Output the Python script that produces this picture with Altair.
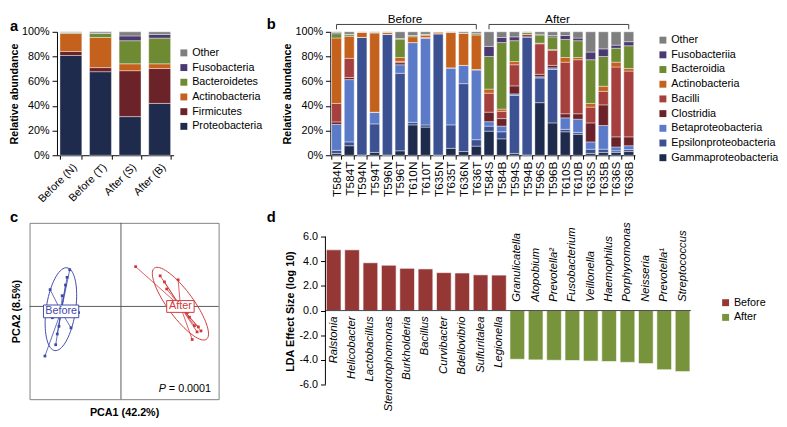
import math
import numpy as np
import pandas as pd
import altair as alt

FONT = "Liberation Sans"

# ---------------- panel a ----------------
a_groups = ["Before (N)", "Before (T)", "After (S)", "After (B)"]
a_legend_order = ["Other", "Fusobacteria", "Bacteroidetes", "Actinobacteria", "Firmicutes", "Proteobacteria"]
a_colors = ["#7F7F7F", "#4B3A72", "#6E8B33", "#C4611C", "#6B2228", "#1F2B4D"]
a_proteobacteria = [80.8, 67.7, 31.3, 42.0]
a_firmicutes = [3.3, 3.3, 37.2, 28.3]
a_actinobacteria = [14.6, 24.4, 5.6, 3.8]
a_bacteroidetes = [0.8, 3.3, 18.7, 20.8]
a_fusobacteria = [0.0, 0.3, 3.9, 3.0]
a_other = [0.5, 1.0, 3.3, 2.1]

# ---------------- panel b ----------------
b_samples = ["T584N", "T584T", "T594N", "T594T", "T596N", "T596T", "T610N", "T610T",
             "T635N", "T635T", "T636N", "T636T", "T584S", "T584B", "T594S", "T594B",
             "T596S", "T596B", "T610S", "T610B", "T635S", "T635B", "T636S", "T636B"]
b_legend_order = ["Other", "Fusobacteriia", "Bacteroidia", "Actinobacteria", "Bacilli",
                  "Clostridia", "Betaproteobacteria", "Epsilonproteobacteria", "Gammaproteobacteria"]
b_colors = ["#7F7F7F", "#4B3A72", "#6E8B33", "#C4611C", "#A5403F", "#6B2228", "#5B7BC9", "#3B5191", "#1F2B4D"]
b_gamma = [1.5, 7.7, 0.3, 2.3, 0.2, 3.6, 24.6, 22.8, 0.2, 5.6, 3.0, 7.4,
           19.5, 13.3, 1.5, 0.3, 42.6, 26.2, 19.0, 17.0, 1.5, 2.3, 2.3, 3.0]
b_epsilon = [2.5, 3.1, 95.2, 23.1, 97.8, 62.8, 2.1, 1.8, 98.3, 19.0, 55.0, 5.2,
             4.1, 5.7, 47.0, 95.6, 20.0, 43.3, 2.0, 1.5, 3.4, 2.6, 1.3, 1.6]
b_beta = [21.0, 50.5, 0.0, 9.5, 0.0, 6.9, 64.6, 70.0, 0.0, 46.2, 14.8, 56.4,
          3.6, 4.6, 1.2, 0.0, 1.0, 1.3, 9.3, 10.7, 5.9, 19.2, 3.1, 3.1]
b_clostridia = [2.0, 1.7, 0.0, 0.0, 0.0, 1.7, 0.0, 0.0, 0.0, 0.0, 0.0, 0.5,
                7.7, 6.1, 6.5, 0.0, 2.0, 2.0, 3.3, 4.4, 15.4, 16.7, 8.2, 7.2]
b_bacilli = [15.0, 15.5, 0.0, 0.0, 0.0, 1.0, 0.0, 0.8, 0.0, 0.0, 0.0, 0.0,
             15.4, 5.9, 17.1, 2.1, 24.7, 12.3, 41.8, 43.8, 12.8, 11.0, 56.6, 53.3]
b_actino = [53.0, 17.9, 4.3, 64.1, 1.5, 3.2, 4.7, 1.8, 1.5, 28.7, 26.2, 27.9,
            3.3, 1.8, 2.6, 0.0, 0.5, 0.5, 3.8, 1.8, 3.0, 4.1, 3.9, 2.1]
b_bacteroidia = [3.5, 1.3, 0.0, 0.5, 0.0, 14.8, 1.0, 0.8, 0.0, 0.0, 0.0, 1.1,
                 26.4, 53.9, 16.9, 1.5, 6.6, 10.3, 14.6, 13.6, 35.4, 24.1, 11.3, 18.4]
b_fuso = [1.0, 0.3, 0.0, 0.0, 0.0, 0.6, 0.0, 0.0, 0.0, 0.0, 0.0, 0.0,
          8.2, 4.1, 3.1, 0.0, 0.6, 1.1, 3.2, 2.1, 6.2, 6.2, 2.5, 3.3]
b_other = [0.5, 2.0, 0.2, 0.5, 0.5, 5.4, 3.0, 2.0, 0.0, 0.5, 1.0, 1.5,
           11.8, 4.6, 4.1, 0.5, 2.0, 3.0, 3.0, 5.1, 16.4, 13.8, 10.8, 8.0]
b_bracket_labels = ["Before", "After"]
b_bracket_start = ["T584N", "T584S"]
b_bracket_end = ["T636T", "T636B"]
b_bracket_mid = ["T596T", "T596B"]

# ---------------- panel c ----------------
c_before_x = [-0.723, -0.523, -0.776, -0.433, -0.51, -0.666, -0.70, -0.65, -0.566, -0.60, -0.55, -0.633]
c_before_y = [0.183, 0.40, -0.54, -0.067, -0.233, -0.417, -0.123, -0.30, 0.233, 0.117, 0.317, -0.217]
c_after_x = [0.15, 0.584, 0.467, 0.40, 0.444, 0.727, 0.817, 0.777, 0.75, 0.70, 0.79, 0.677]
c_after_y = [0.433, 0.29, 0.19, 0.333, 0.267, -0.36, -0.267, -0.277, -0.21, -0.117, -0.223, -0.067]
# ellipse: center x, center y, semi-major, semi-minor, angle (deg)
c_ellipse_before = [-0.613, -0.03, 0.455, 0.15, 82.2]
c_ellipse_after = [0.607, 0.03, 0.47, 0.135, -55.8]
c_colors = ["#3F4AA8", "#D0393B"]

# ---------------- panel d ----------------
d_genera_before = ["Ralstonia", "Helicobacter", "Lactobacillus", "Stenotrophomonas", "Burkholderia",
                   "Bacillus", "Curvibacter", "Bdellovibrio", "Sulfuritalea", "Legionella"]
d_lda_before = [4.93, 4.93, 3.88, 3.68, 3.43, 3.38, 3.08, 3.05, 2.90, 2.88]
d_genera_after = ["Granulicatella", "Atopobium", "Prevotella\u00b2", "Fusobacterium", "Veillonella",
                  "Haemophilus", "Porphyromonas", "Neisseria", "Prevotella\u00b9", "Streptococcus"]
d_lda_after = [-3.95, -4.0, -4.03, -4.05, -4.1, -4.13, -4.2, -4.3, -4.8, -4.95]
d_colors = ["#953735", "#77933C"]

H1 = 126
H2 = 180
A_OFF = 28


def letter(t, dx, offset):
    return alt.TitleParams(t, anchor="start", frame="group", dx=dx, offset=offset,
                           fontSize=15, fontWeight="bold", font=FONT, color="black")


NOVIEW = alt.ViewBackground(stroke=None)
pct_axis = dict(format="%", values=[0, 0.2, 0.4, 0.6, 0.8, 1.0], title="Relative abundance",
                tickSize=5, labelPadding=3, titlePadding=2, labelOverlap=False)

# ---------- build a ----------
a_series = {"Proteobacteria": a_proteobacteria, "Firmicutes": a_firmicutes,
            "Actinobacteria": a_actinobacteria, "Bacteroidetes": a_bacteroidetes,
            "Fusobacteria": a_fusobacteria, "Other": a_other}
rows = []
stack_a = list(reversed(a_legend_order))
for i, g in enumerate(a_groups):
    for k, t in enumerate(stack_a):
        rows.append({"group": g, "taxon": t, "value": a_series[t][i], "ord": k})
df_a = pd.DataFrame(rows)

chart_a = alt.Chart(df_a).mark_bar(stroke="white", strokeWidth=0.4).encode(
    x=alt.X("group:N", scale=alt.Scale(domain=a_groups, paddingInner=0.26, paddingOuter=0.1, rangeMin=A_OFF),
            axis=alt.Axis(title=None, labelAngle=-45, tickBand="extent", tickSize=4, labelPadding=2)),
    y=alt.Y("value:Q", stack="normalize", scale=alt.Scale(domain=[0, 1]),
            axis=alt.Axis(offset=-A_OFF, **pct_axis)),
    color=alt.Color("taxon:N", scale=alt.Scale(domain=a_legend_order, range=a_colors),
                    legend=alt.Legend(title=None, orient="none", legendX=A_OFF + 124, legendY=16)),
    order=alt.Order("ord:Q", sort="ascending"),
).properties(width=119 + A_OFF, height=H1, title=letter("a", -20, -8), view=NOVIEW)

# ---------- build b ----------
b_series = {"Gammaproteobacteria": b_gamma, "Epsilonproteobacteria": b_epsilon,
            "Betaproteobacteria": b_beta, "Clostridia": b_clostridia, "Bacilli": b_bacilli,
            "Actinobacteria": b_actino, "Bacteroidia": b_bacteroidia, "Fusobacteriia": b_fuso,
            "Other": b_other}
rows = []
stack_b = list(reversed(b_legend_order))
for i, s in enumerate(b_samples):
    for k, t in enumerate(stack_b):
        rows.append({"sample": s, "taxon": t, "value": b_series[t][i], "ord": k})
df_b = pd.DataFrame(rows)
bx_scale = alt.Scale(domain=b_samples, paddingInner=0.22, paddingOuter=0.1)
by_scale = alt.Scale(domain=[0, 1])
b_yaxis = alt.Axis(**pct_axis)
LINE_Y = 1 + 7.5 / H1
TICK_Y = 1 + 2.5 / H1

b_bars = alt.Chart(df_b).mark_bar(stroke="white", strokeWidth=0.4).encode(
    x=alt.X("sample:N", scale=bx_scale,
            axis=alt.Axis(title=None, labelAngle=-90, tickBand="extent", tickSize=4, labelPadding=2,
                          labelFontSize=12)),
    y=alt.Y("value:Q", stack="normalize", scale=by_scale, axis=b_yaxis),
    color=alt.Color("taxon:N", scale=alt.Scale(domain=b_legend_order, range=b_colors),
                    legend=alt.Legend(title=None, orient="none", legendX=334, legendY=3)),
    order=alt.Order("ord:Q", sort="ascending"),
)
df_br = pd.DataFrame({"label": b_bracket_labels, "start": b_bracket_start,
                      "end": b_bracket_end, "mid": b_bracket_mid})
b_hline = alt.Chart(df_br).mark_rule(color="#404040", strokeWidth=1).encode(
    x=alt.X("start:N", scale=bx_scale), x2="end:N",
    y=alt.Y(datum=LINE_Y, scale=by_scale, axis=b_yaxis))
df_bt = pd.DataFrame({"cat": b_bracket_start + b_bracket_end})
b_vtick = alt.Chart(df_bt).mark_rule(color="#404040", strokeWidth=1).encode(
    x=alt.X("cat:N", scale=bx_scale),
    y=alt.Y(datum=TICK_Y, scale=by_scale, axis=b_yaxis), y2=alt.datum(LINE_Y))
b_text = alt.Chart(df_br).mark_text(baseline="alphabetic", dy=-2, fontSize=12, font=FONT, color="black").encode(
    x=alt.X("mid:N", scale=bx_scale, bandPosition=1),
    y=alt.Y(datum=LINE_Y, scale=by_scale, axis=b_yaxis), text="label:N")
chart_b = alt.layer(b_bars, b_hline, b_vtick, b_text).properties(
    width=311, height=H1, title=letter("b", -65, -20), view=NOVIEW)

# ---------- build c ----------
cxs = alt.Scale(domain=[-0.933, 0.997], nice=False, zero=False)
cys = alt.Scale(domain=[-1.01, 0.91], nice=False, zero=False)
cx_axis = alt.Axis(title="PCA1 (42.2%)", labels=False, ticks=False, domain=False, grid=False, titlePadding=8)
cy_axis = alt.Axis(title="PCA2 (8.5%)", labels=False, ticks=False, domain=False, grid=False, titlePadding=8)
ccol = alt.Scale(domain=["Before", "After"], range=c_colors)

pts = pd.DataFrame({
    "x": c_before_x + c_after_x,
    "y": c_before_y + c_after_y,
    "group": ["Before"] * len(c_before_x) + ["After"] * len(c_after_x),
})
cent = pts.groupby("group", as_index=False)[["x", "y"]].mean()
cent = cent.rename(columns={"x": "cx", "y": "cy"})
spider = pts.merge(cent, on="group")

ell_rows = []
for g, (ex, ey, ea, eb, ang) in [("Before", c_ellipse_before), ("After", c_ellipse_after)]:
    th = math.radians(ang)
    for j, t in enumerate(np.linspace(0, 2 * math.pi, 73)):
        ell_rows.append({"group": g, "i": j,
                         "x": ex + ea * math.cos(t) * math.cos(th) - eb * math.sin(t) * math.sin(th),
                         "y": ey + ea * math.cos(t) * math.sin(th) + eb * math.sin(t) * math.cos(th)})
df_ell = pd.DataFrame(ell_rows)
one = pd.DataFrame({"k": [0]})

c_vline = alt.Chart(one).mark_rule(color="#595959", strokeWidth=1).encode(
    x=alt.X(datum=0, scale=cxs, axis=cx_axis))
c_hline = alt.Chart(one).mark_rule(color="#595959", strokeWidth=1).encode(
    y=alt.Y(datum=0, scale=cys, axis=cy_axis))
c_ell = alt.Chart(df_ell).mark_line(strokeWidth=1).encode(
    x=alt.X("x:Q", scale=cxs, axis=cx_axis), y=alt.Y("y:Q", scale=cys, axis=cy_axis),
    detail="group:N", order="i:Q", color=alt.Color("group:N", scale=ccol, legend=None))
c_spider = alt.Chart(spider).mark_rule(strokeWidth=0.8).encode(
    x=alt.X("cx:Q", scale=cxs, axis=cx_axis), y=alt.Y("cy:Q", scale=cys, axis=cy_axis),
    x2="x:Q", y2="y:Q", color=alt.Color("group:N", scale=ccol, legend=None))
c_pts = alt.Chart(pts).mark_square(size=8, opacity=1).encode(
    x=alt.X("x:Q", scale=cxs, axis=cx_axis), y=alt.Y("y:Q", scale=cys, axis=cy_axis),
    color=alt.Color("group:N", scale=ccol, legend=None))
box_before = alt.Chart(cent).transform_filter(alt.datum.group == "Before").mark_point(
    shape="M-1,-0.36L1,-0.36L1,0.36L-1,0.36Z", size=1296, filled=True, fill="white",
    stroke=c_colors[0], strokeWidth=1, opacity=1).encode(
    x=alt.X("cx:Q", scale=cxs, axis=cx_axis), y=alt.Y("cy:Q", scale=cys, axis=cy_axis))
box_after = alt.Chart(cent).transform_filter(alt.datum.group == "After").mark_point(
    shape="M-1,-0.43L1,-0.43L1,0.43L-1,0.43Z", size=784, filled=True, fill="white",
    stroke=c_colors[1], strokeWidth=1, opacity=1).encode(
    x=alt.X("cx:Q", scale=cxs, axis=cx_axis), y=alt.Y("cy:Q", scale=cys, axis=cy_axis))
c_lab = alt.Chart(cent).mark_text(fontSize=11, font=FONT, baseline="middle").encode(
    x=alt.X("cx:Q", scale=cxs, axis=cx_axis), y=alt.Y("cy:Q", scale=cys, axis=cy_axis),
    text="group:N", color=alt.Color("group:N", scale=ccol, legend=None))
c_p = alt.Chart(one).mark_text(text="P", fontStyle="italic", fontSize=11, font=FONT, align="right",
                                baseline="middle", color="black").encode(
    x=alt.X(datum=0.46, scale=cxs, axis=cx_axis), y=alt.Y(datum=-0.9, scale=cys, axis=cy_axis))
c_pv = alt.Chart(one).mark_text(text="= 0.0001", fontSize=11, font=FONT, align="right",
                                 baseline="middle", color="black").encode(
    x=alt.X(datum=0.92, scale=cxs, axis=cx_axis), y=alt.Y(datum=-0.9, scale=cys, axis=cy_axis))
chart_c = alt.layer(c_vline, c_hline, c_ell, c_spider, c_pts, box_before, box_after, c_lab, c_p, c_pv).properties(
    width=193, height=H2, title=letter("c", -20, -3),
    view=alt.ViewBackground(stroke="#7F7F7F", strokeWidth=1))

# ---------- build d ----------
d_names = d_genera_before + d_genera_after
df_d = pd.DataFrame({"genus": d_names, "lda": d_lda_before + d_lda_after,
                     "group": ["Before"] * len(d_genera_before) + ["After"] * len(d_genera_after)})
dxs = alt.Scale(domain=d_names, paddingInner=0.2, paddingOuter=0.05)
dys = alt.Scale(domain=[-7.19, 7.12], nice=False, zero=False)
d_axis = alt.Axis(title="LDA Effect Size (log 10)", values=[-6, -4, -2, 0, 2, 4, 6], domain=False,
                  labelExpr="datum.value < 0 ? '-' + format(-datum.value, '.1f') : format(datum.value, '.1f')",
                  tickSize=5, labelPadding=3, titlePadding=4, labelOverlap=False)
d_bars = alt.Chart(df_d).mark_bar(stroke="white", strokeWidth=0.6).encode(
    x=alt.X("genus:N", scale=dxs, axis=None),
    y=alt.Y("lda:Q", scale=dys, axis=d_axis),
    color=alt.Color("group:N", scale=alt.Scale(domain=["Before", "After"], range=d_colors),
                    legend=alt.Legend(title=None, orient="none", legendX=403, legendY=76)))
d_zero = alt.Chart(one).mark_rule(color="#404040", strokeWidth=1).encode(y=alt.Y(datum=0, scale=dys, axis=d_axis))
d_yline = alt.Chart(one).mark_rule(color="black", strokeWidth=1).encode(
    x=alt.value(0), y=alt.Y(datum=-6, scale=dys, axis=d_axis), y2=alt.datum(6))
d_lab_b = alt.Chart(df_d).transform_filter(alt.datum.group == "Before").mark_text(
    angle=270, align="right", baseline="middle", dx=-6, fontStyle="italic", fontSize=11.5,
    font=FONT, color="black").encode(
    x=alt.X("genus:N", scale=dxs, axis=None), y=alt.Y(datum=0, scale=dys, axis=d_axis), text="genus:N")
d_lab_a = alt.Chart(df_d).transform_filter(alt.datum.group == "After").mark_text(
    angle=270, align="left", baseline="middle", dx=9, fontStyle="italic", fontSize=11.5,
    font=FONT, color="black").encode(
    x=alt.X("genus:N", scale=dxs, axis=None), y=alt.Y(datum=0, scale=dys, axis=d_axis), text="genus:N")
chart_d = alt.layer(d_bars, d_zero, d_yline, d_lab_b, d_lab_a).properties(
    width=373, height=H2, title=letter("d", -60, -3), view=NOVIEW)

row1 = alt.hconcat(chart_a, chart_b, spacing=160, bounds="flush").resolve_scale(color="independent")
row2 = alt.hconcat(chart_c, chart_d, spacing=109, bounds="flush").resolve_scale(color="independent")

chart = alt.vconcat(row1, row2, spacing=6).resolve_scale(color="independent").properties(
    padding=0
).configure(font=FONT).configure_view(stroke=None).configure_axis(
    domainColor="black", tickColor="black", labelColor="black", titleColor="black", grid=False,
    labelFontSize=11, titleFontSize=11, titleFontWeight="bold", labelFont=FONT, titleFont=FONT
).configure_legend(
    labelFont=FONT, labelFontSize=11, labelColor="black", symbolType="square", symbolSize=50,
    symbolStrokeWidth=0, rowPadding=3, labelOffset=3, labelLimit=250, padding=0
)

chart.save("out.html", embed_options={"renderer": "svg", "actions": False})
